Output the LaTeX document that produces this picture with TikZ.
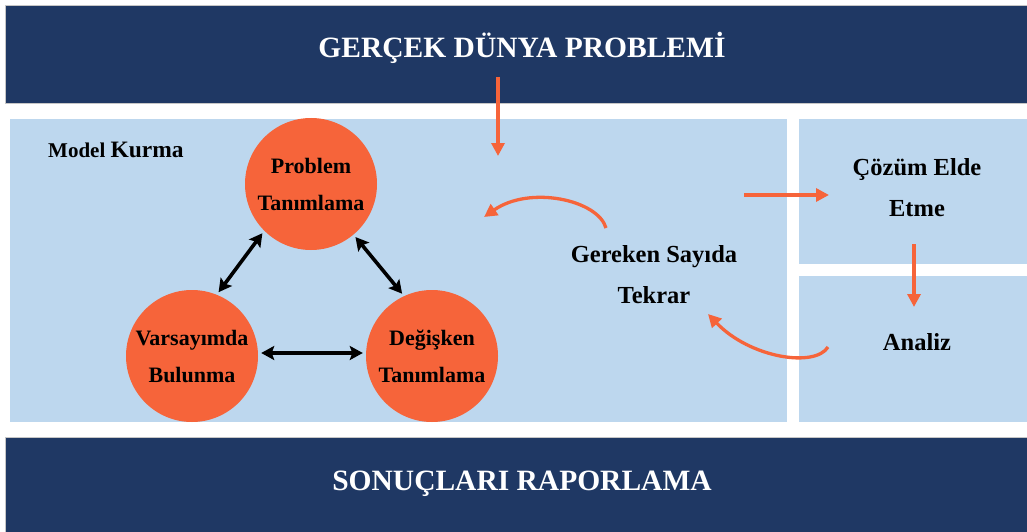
\documentclass[tikz,border=0pt]{standalone}
\usepackage{fontspec}
\setmainfont{Liberation Serif}
\usetikzlibrary{arrows.meta}
\definecolor{navy}{HTML}{1F3864}
\definecolor{panelblue}{HTML}{BDD7EE}
\definecolor{orng}{HTML}{F6643A}
\begin{document}
\begin{tikzpicture}[x=1pt,y=-1pt,
  band/.style={fill=navy,draw=gray!45,line width=0.8pt},
  panel/.style={fill=panelblue,draw=none},
  bandtext/.style={text=white,font=\fontsize{29.5}{34}\selectfont\bfseries,inner sep=0pt},
  circ/.style={circle,fill=orng,draw=none,minimum size=132pt,inner sep=0pt,align=center,
    font=\fontsize{22}{37}\selectfont\bfseries},
  lbl/.style={align=center,inner sep=0pt,font=\fontsize{24.5}{41}\selectfont\bfseries},
  oarrow/.style={draw=orng,line width=3.3pt,-{Triangle[length=13pt,width=13pt]}},
  barrow/.style={draw=black,line width=3.6pt,{Stealth[length=13pt,width=14pt,inset=2.5pt]}-{Stealth[length=13pt,width=14pt,inset=2.5pt]},shorten <=3pt,shorten >=3pt}
]
\useasboundingbox (0,0) rectangle (1027,532);
\fill[white] (0,0) rectangle (1027,532);
% bands and panels
\path[band] (5,5) rectangle (1030,103);
\path[band] (5,437) rectangle (1030,535);
\path[panel] (10,119) rectangle (787,422);
\path[panel] (799,119) rectangle (1027,264);
\path[panel] (799,276) rectangle (1027,422);
% titles
\node[bandtext,anchor=base] (top) at (522,58) {GERÇEK DÜNYA PROBLEMİ};
\node[bandtext,anchor=base] (bottom) at (522,490) {SONUÇLARI RAPORLAMA};
% model kurma label
\node[anchor=base west,inner sep=0pt,font=\bfseries] (model) at (48,157)
  {\fontsize{21}{24}\selectfont Model\ \fontsize{23.5}{24}\selectfont Kurma};
% circles
\node[circ] (prob) at (311,184) {Problem\\Tanımlama};
\node[circ] (vars) at (192,356) {Varsayımda\\Bulunma};
\node[circ] (deg) at (432,356) {Değişken\\Tanımlama};
% black double arrows
\draw[barrow] (prob.225) -- (vars.68);
\draw[barrow] (prob.310) -- (deg.115);
\draw[barrow] ([yshift=3pt]vars.east) -- ([yshift=3pt]deg.west);
% right-hand labels
\node[lbl] (tekrar) at (654,275) {Gereken Sayıda\\Tekrar};
\node[lbl] (cozum) at (917,188) {Çözüm Elde\\Etme};
\node[lbl] (analiz) at (917,342) {Analiz};
% orange arrow end points
\coordinate (a1s) at (498,77);
\coordinate (a1e) at (498,156);
\coordinate (a2s) at (606,228);
\coordinate (a2e) at (484,217);
\coordinate (a3s) at (744,195);
\coordinate (a3e) at (829,195);
\coordinate (a4s) at (914,244);
\coordinate (a4e) at (914,307);
\coordinate (a5s) at (828,347);
\coordinate (a5e) at (708,314);
% orange arrows
\draw[oarrow] (a1s) -- (a1e);
\draw[oarrow] (a2s) .. controls (598,200) and (530,185) .. (a2e);
\draw[oarrow] (a3s) -- (a3e);
\draw[oarrow] (a4s) -- (a4e);
\draw[oarrow] (a5s) .. controls (815,368) and (750,358) .. (a5e);
\end{tikzpicture}
\end{document}
